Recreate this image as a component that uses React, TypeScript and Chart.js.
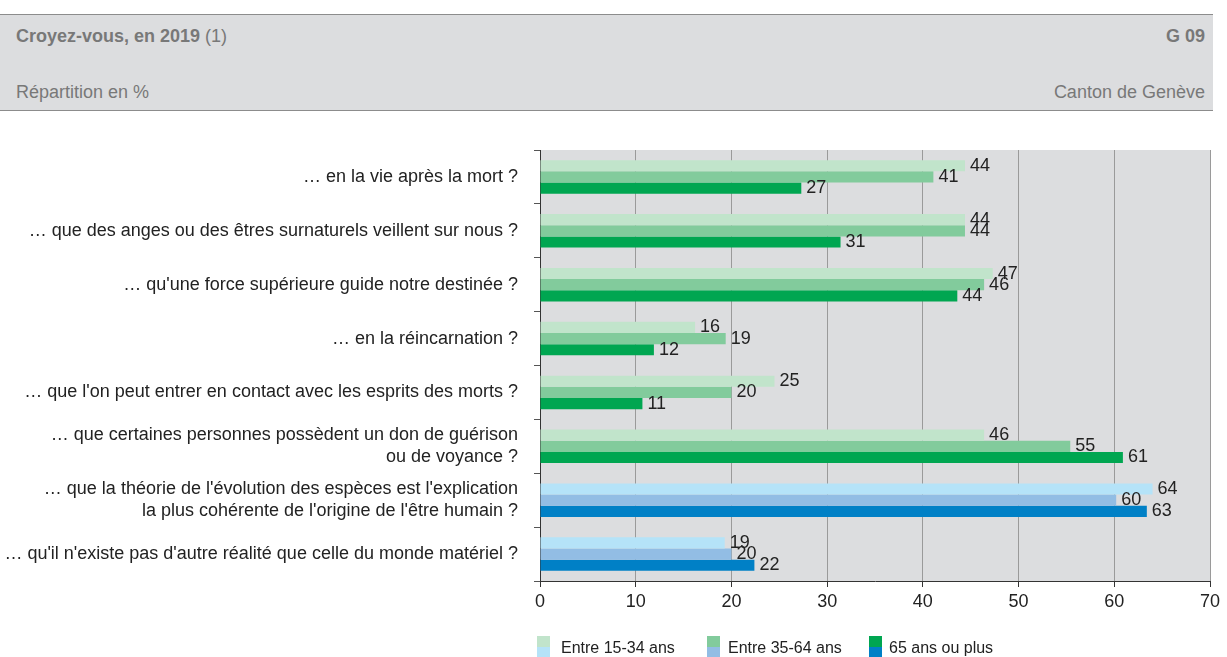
import React, { useEffect, useRef } from "react";
import { Chart, registerables } from "chart.js";

Chart.register(...registerables);

const categories: (string | string[])[] = [
  "… en la vie après la mort ?",
  "… que des anges ou des êtres surnaturels veillent sur nous ?",
  "… qu'une force supérieure guide notre destinée ?",
  "… en la réincarnation ?",
  "… que l'on peut entrer en contact avec les esprits des morts ?",
  ["… que certaines personnes possèdent un don de guérison", "ou de voyance ?"],
  ["… que la théorie de l'évolution des espèces est l'explication", "la plus cohérente de l'origine de l'être humain ?"],
  "… qu'il n'existe pas d'autre réalité que celle du monde matériel ?",
];

const age15to34 = [44.4, 44.4, 47.3, 16.2, 24.5, 46.4, 64.0, 19.3];
const age35to64 = [41.1, 44.4, 46.4, 19.4, 20.0, 55.4, 60.2, 20.0];
const age65plus = [27.3, 31.4, 43.6, 11.9, 10.7, 60.9, 63.4, 22.4];

const seriesNames = ["Entre 15-34 ans", "Entre 35-64 ans", "65 ans ou plus"];
const xTicks = [0, 10, 20, 30, 40, 50, 60, 70];

const greens = ["#c1e4cb", "#82cb9c", "#00a651"];
const blues = ["#b5e3f8", "#92bde4", "#0080c6"];
const blueFrom = 6;

const FONT = "'Liberation Sans', Arial, sans-serif";

const bgPlugin = {
  id: "plotBg",
  beforeDraw(chart: any) {
    const { ctx, chartArea } = chart;
    ctx.save();
    ctx.fillStyle = "#dcdddf";
    ctx.fillRect(chartArea.left, chartArea.top, chartArea.right - chartArea.left, chartArea.bottom - chartArea.top);
    ctx.restore();
  },
};

const labelPlugin = {
  id: "valueLabels",
  afterDatasetsDraw(chart: any) {
    const { ctx } = chart;
    ctx.save();
    ctx.font = `18px ${FONT}`;
    ctx.fillStyle = "#222";
    ctx.textBaseline = "middle";
    ctx.textAlign = "left";
    chart.data.datasets.forEach((ds: any, di: number) => {
      const meta = chart.getDatasetMeta(di);
      meta.data.forEach((el: any, i: number) => {
        const v = ds.data[i];
        ctx.fillText(String(Math.round(v)), el.x + 5, el.y);
      });
    });
    ctx.restore();
  },
};

export default function App() {
  const ref = useRef<HTMLCanvasElement | null>(null);

  useEffect(() => {
    if (!ref.current) return;
    const all = [age15to34, age35to64, age65plus];
    const chart = new Chart(ref.current, {
      type: "bar",
      data: {
        labels: categories,
        datasets: all.map((d, k) => ({
          label: seriesNames[k],
          data: d,
          backgroundColor: d.map((_, i) => (i >= blueFrom ? blues[k] : greens[k])),
          borderWidth: 0,
          barPercentage: 1.0,
          categoryPercentage: 0.62,
        })),
      },
      options: {
        indexAxis: "y",
        animation: false,
        responsive: false,
        maintainAspectRatio: false,
        layout: { padding: { top: 10, right: 17, left: 0, bottom: 0 } },
        plugins: {
          legend: { display: false },
          tooltip: { enabled: false },
        },
        scales: {
          x: {
            min: 0,
            max: 70,
            afterBuildTicks(scale: any) {
              scale.ticks = xTicks.map((v) => ({ value: v }));
            },
            afterFit(scale: any) {
              scale.height = 59;
              scale.paddingLeft = 0;
              scale.paddingRight = 0;
            },
            grid: {
              color: "#9a9a9a",
              tickColor: "#333",
              tickLength: 6,
              drawTicks: true,
            },
            border: { color: "#333", width: 1 },
            ticks: {
              color: "#222",
              font: { family: FONT, size: 18 },
              padding: 4,
            },
          },
          y: {
            afterFit(scale: any) {
              scale.width = 540;
              scale.paddingTop = 0;
              scale.paddingBottom = 0;
            },
            grid: {
              drawOnChartArea: false,
              drawTicks: true,
              tickLength: 6,
              color: "#555",
              offset: true,
            },
            border: { color: "#333", width: 1 },
            ticks: {
              color: "#222",
              font: { family: FONT, size: 18, lineHeight: 1.24 },
              padding: 16,
              autoSkip: false,
            },
          },
        },
      },
      plugins: [bgPlugin, labelPlugin],
    } as any);
    return () => chart.destroy();
  }, []);

  const headerText: React.CSSProperties = {
    position: "absolute",
    fontFamily: FONT,
    fontSize: 18,
    color: "#787878",
    lineHeight: "22px",
    whiteSpace: "nowrap",
  };

  const legendItems = [
    { x: 537, tx: 561, k: 0 },
    { x: 707, tx: 728, k: 1 },
    { x: 869, tx: 889, k: 2 },
  ];

  return (
    <div style={{ position: "absolute", left: 0, top: 0, width: 1227, height: 657, background: "#fff", overflow: "hidden" }}>
      <div
        style={{
          position: "absolute",
          left: 0,
          top: 14,
          width: 1213,
          height: 95,
          background: "#dcdddf",
          borderTop: "1px solid #8c8c8c",
          borderBottom: "1px solid #8c8c8c",
        }}
      >
        <div style={{ ...headerText, left: 16, top: 10 }}>
          <b>Croyez-vous, en 2019</b> (1)
        </div>
        <div style={{ ...headerText, right: 8, top: 10, fontWeight: "bold" }}>G 09</div>
        <div style={{ ...headerText, left: 16, top: 66 }}>Répartition en %</div>
        <div style={{ ...headerText, right: 8, top: 66 }}>Canton de Genève</div>
      </div>
      <canvas ref={ref} width={1227} height={500} style={{ position: "absolute", left: 0, top: 140, width: 1227, height: 500 }} />
      {legendItems.map((it) => (
        <React.Fragment key={it.k}>
          <div style={{ position: "absolute", left: it.x, top: 636, width: 13, height: 11, background: greens[it.k] }} />
          <div style={{ position: "absolute", left: it.x, top: 647, width: 13, height: 11, background: blues[it.k] }} />
          <div
            style={{
              position: "absolute",
              left: it.tx,
              top: 638,
              fontFamily: FONT,
              fontSize: 16,
              color: "#222",
              lineHeight: "20px",
              whiteSpace: "nowrap",
            }}
          >
            {seriesNames[it.k]}
          </div>
        </React.Fragment>
      ))}
    </div>
  );
}
